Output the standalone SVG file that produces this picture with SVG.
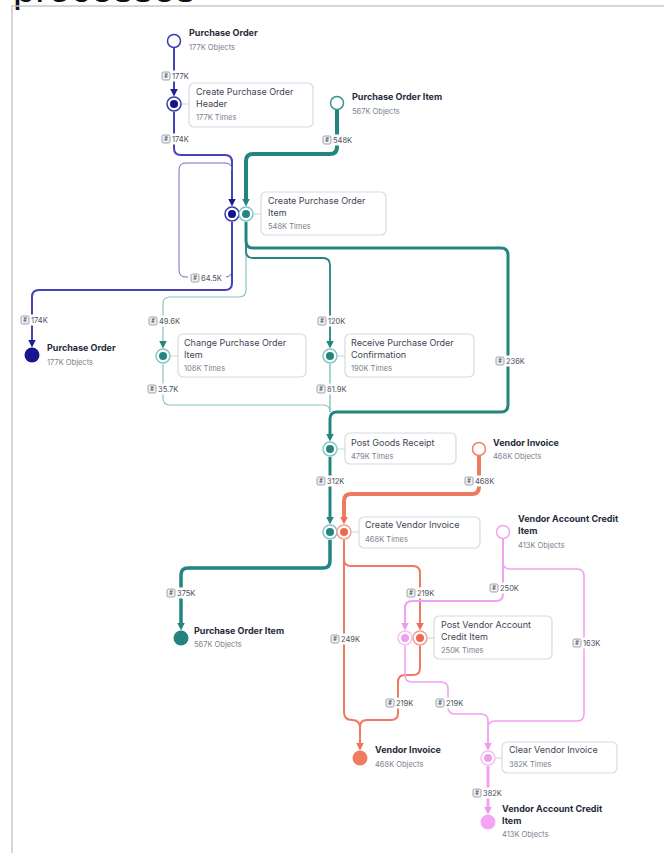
<svg xmlns="http://www.w3.org/2000/svg" width="664" height="853" viewBox="0 0 664 853">
<defs>
<style>
text{font-family:Inter,"Liberation Sans",sans-serif}
.ot{font-size:9px;font-weight:700;fill:#262a39}
.os{font-size:7.5px;fill:#7a7f8c}
.at{font-size:9px;fill:#3f4453}
.as{font-size:7.5px;fill:#7a7f8c}
.box{fill:#fff;stroke:#d8dadf;stroke-width:1.2}
.lk{stroke:#d0d2d7;stroke-width:1}
.c{fill:none}
.pu{stroke:#4444b2;stroke-width:2}
.pul{stroke:#6e6ec6;stroke-width:1}
.te{stroke:#23857f}
.tel{stroke:#86c7c1}
.sa{stroke:#ef7a62}
.pk{stroke:#f0a2f0}
.lbg{fill:#fff}
.bdg{fill:#eef0f3;stroke:#8b8e98;stroke-width:0.8}
.bh{font-size:5.5px;fill:#555a66;text-anchor:middle;font-weight:700}
.lt{font-size:7.5px;fill:#4a4e5a}
</style>
<marker id="aPu" markerUnits="userSpaceOnUse" markerWidth="8" markerHeight="8" refX="3" refY="4" orient="auto"><path d="M0,0 L8,4 L0,8 z" fill="#1e1e96"/></marker>
<marker id="aTe" markerUnits="userSpaceOnUse" markerWidth="8" markerHeight="8" refX="3" refY="4" orient="auto"><path d="M0,0 L8,4 L0,8 z" fill="#23857f"/></marker>
<marker id="aSa" markerUnits="userSpaceOnUse" markerWidth="8" markerHeight="8" refX="3" refY="4" orient="auto"><path d="M0,0 L8,4 L0,8 z" fill="#ee6f55"/></marker>
<marker id="aPk" markerUnits="userSpaceOnUse" markerWidth="8" markerHeight="8" refX="3" refY="4" orient="auto"><path d="M0,0 L8,4 L0,8 z" fill="#ee99ee"/></marker>
</defs>
<rect width="664" height="853" fill="#fff"/>
<text x="13" y="1.5" style="font-family:'Liberation Sans',sans-serif;font-size:40px;fill:#111">processes</text>
<path d="M12,853 V6 H664" fill="none" stroke="#c9c9c9" stroke-width="1.5"/>

<g id="connectors">
<!-- purple -->
<path class="c pu" d="M174,48 V91.5" marker-end="url(#aPu)"/>
<path class="c pu" d="M174,112 V148 Q174,155 181,155 H225 Q232,155 232,162 V201.5" marker-end="url(#aPu)"/>
<path class="c pul" d="M232,222 V270 Q232,277 225,277 H186 Q179,277 179,270 V170 Q179,163 186,163 H225 Q232,163 232,170"/>
<path class="c pu" d="M232,222 V283 Q232,290 225,290 H39 Q32,290 32,297 V342.5" marker-end="url(#aPu)"/>
<!-- teal -->
<path class="c te" stroke-width="4" d="M337,110 V147 Q337,154 330,154 H253 Q246,154 246,161 V201.5" marker-end="url(#aTe)"/>
<path class="c tel" stroke-width="1.2" d="M246,222 V290 Q246,297 239,297 H170 Q163,297 163,304 V343.5" marker-end="url(#aTe)"/>
<path class="c te" stroke-width="1.8" stroke="#3a9690" d="M246,222 V251 Q246,258 253,258 H323 Q330,258 330,265 V343.5" marker-end="url(#aTe)"/>
<path class="c te" stroke-width="3" d="M246,222 V241 Q246,248 253,248 H501 Q508,248 508,255 V405 Q508,412 501,412 H337 Q330,412 330,419 V436.5" marker-end="url(#aTe)"/>
<path class="c tel" stroke-width="1.2" d="M163,364 V398 Q163,405 170,405 H323 Q330,405 330,412"/>
<path class="c tel" stroke-width="1.5" stroke="#5aaaa4" d="M330,364 V412"/>
<path class="c te" stroke-width="3" d="M330,457 V519.5" marker-end="url(#aTe)"/>
<path class="c te" stroke-width="3.5" d="M330,540 V561 Q330,568 323,568 H188 Q181,568 181,575 V625.5" marker-end="url(#aTe)"/>
<!-- salmon -->
<path class="c sa" stroke-width="4" d="M479,456 V487 Q479,494 472,494 H351 Q344,494 344,501 V519.5" marker-end="url(#aSa)"/>
<path class="c sa" stroke-width="2" d="M344,540 V712 Q344,720 352,720 Q360,720 360,728 V745.5" marker-end="url(#aSa)"/>
<path class="c sa" stroke-width="2" d="M344,540 V559 Q344,566 351,566 H413 Q420,566 420,573 V625.5" marker-end="url(#aSa)"/>
<path class="c sa" stroke-width="2" d="M420,646 V668 Q420,675 413,675 H405 Q398,675 398,682 V713 Q398,720 391,720 H367 Q360,720 360,727 V745.5"/>
<!-- pink -->
<path class="c pk" stroke-width="2" d="M503,539 V594 Q503,601 496,601 H412 Q405,601 405,608 V625.5" marker-end="url(#aPk)"/>
<path class="c pk" stroke-width="1.6" d="M503,539 V562 Q503,569 510,569 H577 Q584,569 584,576 V714 Q584,721 577,721 H495 Q488,721 488,728 V745.5" marker-end="url(#aPk)"/>
<path class="c pk" stroke-width="1.6" d="M405,646 V675 Q405,682 412,682 H441 Q448,682 448,689 V707 Q448,714 455,714 H481 Q488,714 488,721 V745.5"/>
<path class="c pk" stroke-width="3" d="M488,766 V809.5" marker-end="url(#aPk)"/>

<!-- labels -->
<g transform="translate(162,76)"><rect class="lbg" x="-1.5" y="-5.5" width="31" height="11"/><rect class="bdg" x="0" y="-4" width="8" height="8" rx="1.5"/><text class="bh" x="4" y="2">#</text><text class="lt" x="10" y="2.7">177K</text></g>
<g transform="translate(162,139)"><rect class="lbg" x="-1.5" y="-5.5" width="31" height="11"/><rect class="bdg" x="0" y="-4" width="8" height="8" rx="1.5"/><text class="bh" x="4" y="2">#</text><text class="lt" x="10" y="2.7">174K</text></g>
<g transform="translate(323,140)"><rect class="lbg" x="-1.5" y="-5.5" width="33" height="11"/><rect class="bdg" x="0" y="-4" width="8" height="8" rx="1.5"/><text class="bh" x="4" y="2">#</text><text class="lt" x="10" y="2.7">548K</text></g>
<g transform="translate(191,278)"><rect class="lbg" x="-3" y="-5.5" width="38" height="11"/><rect class="bdg" x="0" y="-4" width="8" height="8" rx="1.5"/><text class="bh" x="4" y="2">#</text><text class="lt" x="10" y="2.7">64.5K</text></g>
<g transform="translate(21,320)"><rect class="lbg" x="-1.5" y="-5.5" width="31" height="11"/><rect class="bdg" x="0" y="-4" width="8" height="8" rx="1.5"/><text class="bh" x="4" y="2">#</text><text class="lt" x="10" y="2.7">174K</text></g>
<g transform="translate(149,321)"><rect class="lbg" x="-1.5" y="-5.5" width="35" height="11"/><rect class="bdg" x="0" y="-4" width="8" height="8" rx="1.5"/><text class="bh" x="4" y="2">#</text><text class="lt" x="10" y="2.7">49.6K</text></g>
<g transform="translate(318,321)"><rect class="lbg" x="-1.5" y="-5.5" width="32" height="11"/><rect class="bdg" x="0" y="-4" width="8" height="8" rx="1.5"/><text class="bh" x="4" y="2">#</text><text class="lt" x="10" y="2.7">120K</text></g>
<g transform="translate(496,361)"><rect class="lbg" x="-1.5" y="-5.5" width="33" height="11"/><rect class="bdg" x="0" y="-4" width="8" height="8" rx="1.5"/><text class="bh" x="4" y="2">#</text><text class="lt" x="10" y="2.7">236K</text></g>
<g transform="translate(148,389)"><rect class="lbg" x="-1.5" y="-5.5" width="35" height="11"/><rect class="bdg" x="0" y="-4" width="8" height="8" rx="1.5"/><text class="bh" x="4" y="2">#</text><text class="lt" x="10" y="2.7">35.7K</text></g>
<g transform="translate(317,389)"><rect class="lbg" x="-1.5" y="-5.5" width="35" height="11"/><rect class="bdg" x="0" y="-4" width="8" height="8" rx="1.5"/><text class="bh" x="4" y="2">#</text><text class="lt" x="10" y="2.7">81.9K</text></g>
<g transform="translate(317,481)"><rect class="lbg" x="-1.5" y="-5.5" width="33" height="11"/><rect class="bdg" x="0" y="-4" width="8" height="8" rx="1.5"/><text class="bh" x="4" y="2">#</text><text class="lt" x="10" y="2.7">312K</text></g>
<g transform="translate(465,481)"><rect class="lbg" x="-1.5" y="-5.5" width="33" height="11"/><rect class="bdg" x="0" y="-4" width="8" height="8" rx="1.5"/><text class="bh" x="4" y="2">#</text><text class="lt" x="10" y="2.7">468K</text></g>
<g transform="translate(167,593)"><rect class="lbg" x="-1.5" y="-5.5" width="33" height="11"/><rect class="bdg" x="0" y="-4" width="8" height="8" rx="1.5"/><text class="bh" x="4" y="2">#</text><text class="lt" x="10" y="2.7">375K</text></g>
<g transform="translate(407,593)"><rect class="lbg" x="-1.5" y="-5.5" width="32" height="11"/><rect class="bdg" x="0" y="-4" width="8" height="8" rx="1.5"/><text class="bh" x="4" y="2">#</text><text class="lt" x="10" y="2.7">219K</text></g>
<g transform="translate(490,588)"><rect class="lbg" x="-1.5" y="-5.5" width="33" height="11"/><rect class="bdg" x="0" y="-4" width="8" height="8" rx="1.5"/><text class="bh" x="4" y="2">#</text><text class="lt" x="10" y="2.7">250K</text></g>
<g transform="translate(331,639)"><rect class="lbg" x="-1.5" y="-5.5" width="33" height="11"/><rect class="bdg" x="0" y="-4" width="8" height="8" rx="1.5"/><text class="bh" x="4" y="2">#</text><text class="lt" x="10" y="2.7">249K</text></g>
<g transform="translate(573,643)"><rect class="lbg" x="-1.5" y="-5.5" width="33" height="11"/><rect class="bdg" x="0" y="-4" width="8" height="8" rx="1.5"/><text class="bh" x="4" y="2">#</text><text class="lt" x="10" y="2.7">163K</text></g>
<g transform="translate(386,703)"><rect class="lbg" x="-1.5" y="-5.5" width="32" height="11"/><rect class="bdg" x="0" y="-4" width="8" height="8" rx="1.5"/><text class="bh" x="4" y="2">#</text><text class="lt" x="10" y="2.7">219K</text></g>
<g transform="translate(436,703)"><rect class="lbg" x="-1.5" y="-5.5" width="32" height="11"/><rect class="bdg" x="0" y="-4" width="8" height="8" rx="1.5"/><text class="bh" x="4" y="2">#</text><text class="lt" x="10" y="2.7">219K</text></g>
<g transform="translate(473,793)"><rect class="lbg" x="-1.5" y="-5.5" width="33" height="11"/><rect class="bdg" x="0" y="-4" width="8" height="8" rx="1.5"/><text class="bh" x="4" y="2">#</text><text class="lt" x="10" y="2.7">382K</text></g>
</g>

<!-- object start nodes -->
<g id="obj-purchase-order-start">
<circle cx="174" cy="41" r="6.5" fill="#fff" stroke="#3d3db0" stroke-width="1.5"/>
<text class="ot" x="189" y="36">Purchase Order</text>
<text class="os" x="189" y="50">177K Objects</text>
</g>
<g id="obj-purchase-order-item-start">
<circle cx="337" cy="103" r="6.5" fill="#fff" stroke="#3a9690" stroke-width="1.5"/>
<text class="ot" x="352" y="100">Purchase Order Item</text>
<text class="os" x="352" y="114">567K Objects</text>
</g>
<g id="obj-vendor-invoice-start">
<circle cx="479" cy="449" r="6.5" fill="#fff" stroke="#ef8069" stroke-width="1.5"/>
<text class="ot" x="493" y="446">Vendor Invoice</text>
<text class="os" x="493" y="459">468K Objects</text>
</g>
<g id="obj-vendor-account-credit-item-start">
<circle cx="503" cy="532" r="6.5" fill="#fff" stroke="#f0a8f0" stroke-width="1.5"/>
<text class="ot" x="518" y="522">Vendor Account Credit</text>
<text class="ot" x="518" y="534">Item</text>
<text class="os" x="518" y="548">413K Objects</text>
</g>

<!-- activities -->
<g id="act-create-purchase-order-header">
<line class="lk" x1="182" y1="104" x2="189" y2="104"/>
<rect class="box" x="189" y="83" width="124" height="44" rx="5"/>
<circle cx="174" cy="104" r="7" fill="#fff" stroke="#3a3aa8" stroke-width="1.5"/>
<circle cx="174" cy="104" r="4" fill="#13138a"/>
<text class="at" x="196" y="95">Create Purchase Order</text>
<text class="at" x="196" y="107">Header</text>
<text class="as" x="196" y="120">177K Times</text>
</g>
<g id="act-create-purchase-order-item">
<line class="lk" x1="254" y1="214" x2="261" y2="214"/>
<rect class="box" x="261" y="192" width="125" height="43" rx="5"/>
<circle cx="232" cy="214" r="7" fill="#fff" stroke="#3a3aa8" stroke-width="1.5"/>
<circle cx="232" cy="214" r="4" fill="#13138a"/>
<circle cx="246" cy="214" r="7" fill="#fff" stroke="#86c7c1" stroke-width="1.5"/>
<circle cx="246" cy="214" r="4" fill="#23857f"/>
<text class="at" x="268" y="204">Create Purchase Order</text>
<text class="at" x="268" y="216">Item</text>
<text class="as" x="268" y="229">548K Times</text>
</g>
<g id="act-change-purchase-order-item">
<line class="lk" x1="171" y1="356" x2="178" y2="356"/>
<rect class="box" x="178" y="334" width="128" height="43" rx="5"/>
<circle cx="163" cy="356" r="7" fill="#fff" stroke="#86c7c1" stroke-width="1.5"/>
<circle cx="163" cy="356" r="4" fill="#23857f"/>
<text class="at" x="184" y="346">Change Purchase Order</text>
<text class="at" x="184" y="358">Item</text>
<text class="as" x="184" y="371">108K Times</text>
</g>
<g id="act-receive-purchase-order-confirmation">
<line class="lk" x1="338" y1="356" x2="345" y2="356"/>
<rect class="box" x="345" y="334" width="129" height="43" rx="5"/>
<circle cx="330" cy="356" r="7" fill="#fff" stroke="#86c7c1" stroke-width="1.5"/>
<circle cx="330" cy="356" r="4" fill="#23857f"/>
<text class="at" x="351" y="346">Receive Purchase Order</text>
<text class="at" x="351" y="358">Confirmation</text>
<text class="as" x="351" y="371">190K Times</text>
</g>
<g id="act-post-goods-receipt">
<line class="lk" x1="338" y1="449" x2="345" y2="449"/>
<rect class="box" x="345" y="433" width="111" height="31" rx="5"/>
<circle cx="330" cy="449" r="7" fill="#fff" stroke="#86c7c1" stroke-width="1.5"/>
<circle cx="330" cy="449" r="4" fill="#23857f"/>
<text class="at" x="351" y="446">Post Goods Receipt</text>
<text class="as" x="351" y="459">479K Times</text>
</g>
<g id="act-create-vendor-invoice">
<line class="lk" x1="352" y1="532" x2="359" y2="532"/>
<rect class="box" x="359" y="517" width="121" height="31" rx="5"/>
<circle cx="330" cy="532" r="7" fill="#fff" stroke="#86c7c1" stroke-width="1.5"/>
<circle cx="330" cy="532" r="4" fill="#23857f"/>
<circle cx="344" cy="532" r="7" fill="#fff" stroke="#f3a08c" stroke-width="1.5"/>
<circle cx="344" cy="532" r="4" fill="#ec6a52"/>
<text class="at" x="365" y="528">Create Vendor Invoice</text>
<text class="as" x="365" y="542">468K Times</text>
</g>
<g id="act-post-vendor-account-credit-item">
<line class="lk" x1="428" y1="638" x2="434" y2="638"/>
<rect class="box" x="434" y="616" width="118" height="43" rx="5"/>
<circle cx="405" cy="638" r="7" fill="#fff" stroke="#f5c0f5" stroke-width="1.5"/>
<circle cx="405" cy="638" r="4" fill="#eea2ee"/>
<circle cx="420" cy="638" r="7" fill="#fff" stroke="#f3a08c" stroke-width="1.5"/>
<circle cx="420" cy="638" r="4" fill="#ec6a52"/>
<text class="at" x="441" y="628">Post Vendor Account</text>
<text class="at" x="441" y="640">Credit Item</text>
<text class="as" x="441" y="653">250K Times</text>
</g>
<g id="act-clear-vendor-invoice">
<line class="lk" x1="496" y1="758" x2="502" y2="758"/>
<rect class="box" x="502" y="742" width="115" height="31" rx="5"/>
<circle cx="488" cy="758" r="7" fill="#fff" stroke="#f5c0f5" stroke-width="1.5"/>
<circle cx="488" cy="758" r="4" fill="#eea2ee"/>
<text class="at" x="509" y="753">Clear Vendor Invoice</text>
<text class="as" x="509" y="767">382K Times</text>
</g>

<!-- object end nodes -->
<g id="obj-purchase-order-end">
<circle cx="32" cy="355" r="7.5" fill="#17178d"/>
<text class="ot" x="47" y="351">Purchase Order</text>
<text class="os" x="47" y="365">177K Objects</text>
</g>
<g id="obj-purchase-order-item-end">
<circle cx="181" cy="638" r="7.5" fill="#23837d"/>
<text class="ot" x="194" y="634">Purchase Order Item</text>
<text class="os" x="194" y="647">567K Objects</text>
</g>
<g id="obj-vendor-invoice-end">
<circle cx="360" cy="758" r="7.5" fill="#f07a62"/>
<text class="ot" x="375" y="753">Vendor Invoice</text>
<text class="os" x="375" y="767">468K Objects</text>
</g>
<g id="obj-vendor-account-credit-item-end">
<circle cx="488" cy="822" r="7.5" fill="#f3a6f3"/>
<text class="ot" x="502" y="812">Vendor Account Credit</text>
<text class="ot" x="502" y="824">Item</text>
<text class="os" x="502" y="837">413K Objects</text>
</g>
</svg>
